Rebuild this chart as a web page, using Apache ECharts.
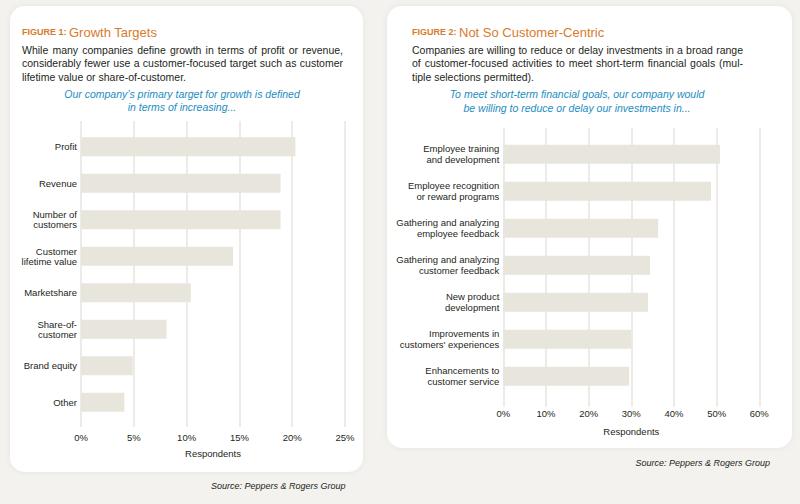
<!DOCTYPE html>
<html>
<head>
<meta charset="utf-8">
<script src="https://cdn.jsdelivr.net/npm/echarts@6/dist/echarts.min.js"></script>
<style>
  html, body { margin: 0; padding: 0; background: #f3f2ee; }
  #main { width: 800px; height: 504px; }
</style>
</head>
<body>
<div id="main"></div>
<script>
// Figure 1 data
const growthCategories = ['Profit', 'Revenue', 'Number of\ncustomers', 'Customer\nlifetime value', 'Marketshare', 'Share-of-\ncustomer', 'Brand equity', 'Other'];
const growthValues = [20.3, 18.9, 18.9, 14.4, 10.4, 8.1, 4.9, 4.1];
// Figure 2 data
const cutCategories = ['Employee training\nand development', 'Employee recognition\nor reward programs', 'Gathering and analyzing\nemployee feedback', 'Gathering and analyzing\ncustomer feedback', 'New product\ndevelopment', 'Improvements in\ncustomers\' experiences', 'Enhancements to\ncustomer service'];
const cutValues = [50.8, 48.7, 36.3, 34.4, 33.9, 30.0, 29.5];

const font = '"Liberation Sans", Arial, sans-serif';
const orange = '#d97a2b';
const blue = '#1b8dc2';
const textDark = '#231f20';
const barColor = '#e7e5dc';
const lineColor = '#e6e4dd';

function txt(x, y, text, extra) {
  return {
    type: 'text', x: x, y: y,
    style: Object.assign({ text: text, fontFamily: font, fontSize: 10.5, fill: textDark, textVerticalAlign: 'middle' }, extra || {})
  };
}

// justified paragraph line: words spread out to fill the width
const measureCtx = document.createElement('canvas').getContext('2d');
function justified(x, y, width, line) {
  measureCtx.font = '10.5px ' + font;
  const words = line.split(' ');
  const widths = words.map(w => measureCtx.measureText(w).width);
  const total = widths.reduce((a, b) => a + b, 0);
  const gap = (width - total) / (words.length - 1);
  let cx = x;
  return words.map((w, i) => {
    const el = txt(cx, y, w);
    cx += widths[i] + gap;
    return el;
  });
}

const chart = echarts.init(document.getElementById('main'), null, { renderer: 'svg' });

const option = {
  backgroundColor: '#f3f2ee',
  animation: false,
  graphic: [
    // cards
    { type: 'rect', z: -10, shape: { x: 10, y: 6, width: 353, height: 466, r: 15 },
      style: { fill: '#fff', shadowBlur: 6, shadowColor: 'rgba(0,0,0,0.06)' } },
    { type: 'rect', z: -10, shape: { x: 387, y: 6, width: 405, height: 442, r: 15 },
      style: { fill: '#fff', shadowBlur: 6, shadowColor: 'rgba(0,0,0,0.06)' } },
    // figure 1 texts
    {
      type: 'text', x: 22, y: 32,
      style: {
        text: '{a|FIGURE 1: }{b|Growth Targets}', textVerticalAlign: 'middle',
        rich: {
          a: { fontFamily: font, fontSize: 9, fontWeight: 'bold', fill: orange },
          b: { fontFamily: font, fontSize: 13, fill: orange }
        }
      }
    },
    ...justified(22, 50, 321, 'While many companies define growth in terms of profit or revenue,'),
    ...justified(22, 63.3, 321, 'considerably fewer use a customer-focused target such as customer'),
    txt(22, 76.7, 'lifetime value or share-of-customer.'),
    txt(182, 94.3, 'Our company\u2019s primary target for growth is defined', { fill: blue, fontStyle: 'italic', textAlign: 'center' }),
    txt(182, 106.7, 'in terms of increasing...', { fill: blue, fontStyle: 'italic', textAlign: 'center' }),
    txt(345.5, 485.7, 'Source: Peppers & Rogers Group', { fontSize: 9, fontStyle: 'italic', textAlign: 'right' }),
    // figure 2 texts
    {
      type: 'text', x: 412, y: 32,
      style: {
        text: '{a|FIGURE 2: }{b|Not So Customer-Centric}', textVerticalAlign: 'middle',
        rich: {
          a: { fontFamily: font, fontSize: 9, fontWeight: 'bold', fill: orange },
          b: { fontFamily: font, fontSize: 13, fill: orange }
        }
      }
    },
    ...justified(412, 50, 331, 'Companies are willing to reduce or delay investments in a broad range'),
    ...justified(412, 63.3, 331, 'of customer-focused activities to meet short-term financial goals (mul-'),
    txt(412, 76.7, 'tiple selections permitted).'),
    txt(577, 94.3, 'To meet short-term financial goals, our company would', { fill: blue, fontStyle: 'italic', textAlign: 'center' }),
    txt(577, 108, 'be willing to reduce or delay our investments in...', { fill: blue, fontStyle: 'italic', textAlign: 'center' }),
    txt(770, 463, 'Source: Peppers & Rogers Group', { fontSize: 9, fontStyle: 'italic', textAlign: 'right' })
  ],
  grid: [
    { left: 81, width: 264, top: 121, height: 306 },   // fig1 gridlines
    { left: 81, width: 264, top: 128.5, height: 292 }, // fig1 bars
    { left: 503.3, width: 256, top: 128, height: 278.7 }, // fig2 gridlines
    { left: 503.3, width: 256, top: 135.8, height: 259 }  // fig2 bars
  ],
  xAxis: [
    {
      gridIndex: 0, type: 'value', min: 0, max: 25, interval: 5,
      axisLine: { show: false }, axisTick: { show: false },
      axisLabel: { formatter: '{value}%', fontFamily: font, fontSize: 9.5, color: textDark, margin: 5 },
      splitLine: { show: true, lineStyle: { color: lineColor, width: 1.5 } },
      name: 'Respondents', nameLocation: 'middle', nameGap: 21,
      nameTextStyle: { fontFamily: font, fontSize: 9.5, color: textDark }
    },
    { gridIndex: 1, type: 'value', min: 0, max: 25, show: false },
    {
      gridIndex: 2, type: 'value', min: 0, max: 60, interval: 10,
      axisLine: { show: false }, axisTick: { show: false },
      axisLabel: { formatter: '{value}%', fontFamily: font, fontSize: 9.5, color: textDark, margin: 2 },
      splitLine: { show: true, lineStyle: { color: lineColor, width: 1.5 } },
      name: 'Respondents', nameLocation: 'middle', nameGap: 20,
      nameTextStyle: { fontFamily: font, fontSize: 9.5, color: textDark }
    },
    { gridIndex: 3, type: 'value', min: 0, max: 60, show: false }
  ],
  yAxis: [
    { gridIndex: 0, type: 'value', show: false },
    {
      gridIndex: 1, type: 'category', inverse: true, data: growthCategories,
      axisLine: { show: false }, axisTick: { show: false },
      axisLabel: { fontFamily: font, fontSize: 9.5, color: textDark, margin: 4, lineHeight: 10 }
    },
    { gridIndex: 2, type: 'value', show: false },
    {
      gridIndex: 3, type: 'category', inverse: true, data: cutCategories,
      axisLine: { show: false }, axisTick: { show: false },
      axisLabel: { fontFamily: font, fontSize: 9.5, color: textDark, margin: 4, lineHeight: 11.3 }
    }
  ],
  series: [
    {
      type: 'bar', xAxisIndex: 1, yAxisIndex: 1, data: growthValues,
      barWidth: 19, itemStyle: { color: barColor }
    },
    {
      type: 'bar', xAxisIndex: 3, yAxisIndex: 3, data: cutValues,
      barWidth: 19, itemStyle: { color: barColor }
    }
  ]
};

chart.setOption(option);
</script>
</body>
</html>
